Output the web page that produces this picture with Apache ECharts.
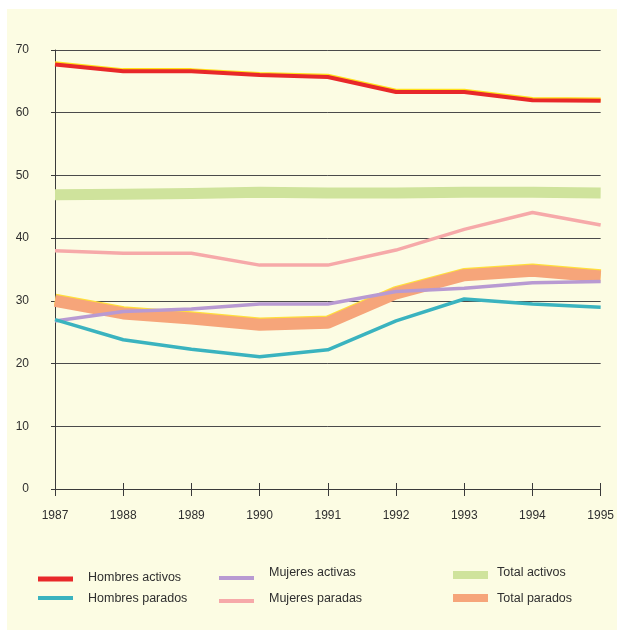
<!DOCTYPE html>
<html>
<head>
<meta charset="utf-8">
<script src="https://cdn.jsdelivr.net/npm/echarts@6/dist/echarts.min.js"></script>
<style>
html,body{margin:0;padding:0;background:#ffffff;}
#bg{position:absolute;left:7px;top:9px;width:610px;height:621px;background:#fcfce3;}
#chart{position:absolute;left:0;top:0;width:617px;height:630px;}
</style>
</head>
<body>
<div id="bg"></div>
<div id="chart"></div>
<script>
const years = ['1987','1988','1989','1990','1991','1992','1993','1994','1995'];
const yTicks = [0, 10, 20, 30, 40, 50, 60, 70];
const hombresActivos = [67.7, 66.6, 66.6, 66.0, 65.7, 63.3, 63.3, 62.0, 61.9];
const hombresParados = [27.0, 23.8, 22.3, 21.1, 22.2, 26.8, 30.3, 29.5, 29.0];
const mujeresActivas = [26.8, 28.3, 28.7, 29.5, 29.5, 31.5, 32.0, 32.9, 33.1];
const mujeresParadas = [38.0, 37.6, 37.6, 35.7, 35.7, 38.1, 41.4, 44.1, 42.1];
const totalActivos = [46.9, 47.0, 47.1, 47.3, 47.2, 47.2, 47.3, 47.3, 47.2];
const totalParados = [30.0, 28.0, 27.2, 26.2, 26.5, 31.2, 34.1, 34.8, 33.9];

const FONT = "'Liberation Sans Narrow', 'Liberation Sans', Arial, sans-serif";
const C = {
  ha: '#e8282a', hp: '#3ab3bf', ma: '#b89ad2', mp: '#f6a9a9', ta: '#cfe39c', tp: '#f6a57a'
};

// icon-only legend
function legIcon(name, color, left, centerY, w, h) {
  return {
    left: left, top: centerY - h / 2, itemWidth: w, itemHeight: h, padding: 0, selectedMode: false,
    data: [{ name: name, icon: 'rect', itemStyle: { color: color, borderWidth: 0 } }],
    textStyle: { fontSize: 1, color: 'rgba(0,0,0,0)', lineHeight: 1 }
  };
}
// text-only legend
function legText(name, left, centerY) {
  return {
    left: left - 6, top: centerY - 7.5, itemWidth: 1, itemHeight: 1, padding: 0, selectedMode: false,
    data: [{ name: name, icon: 'rect', itemStyle: { color: 'rgba(0,0,0,0)', borderWidth: 0 } }],
    textStyle: { fontFamily: FONT, fontSize: 12.5, color: '#2f2f2f', lineHeight: 16 }
  };
}

function line(name, data, color, width, z, shadow) {
  const ls = { color: color, width: width, cap: 'butt', join: 'round' };
  if (shadow) { ls.shadowColor = shadow; ls.shadowBlur = 0; ls.shadowOffsetY = -1.2; }
  return {
    name: name, type: 'line', data: data, symbol: 'none', z: z,
    itemStyle: { color: color }, lineStyle: ls, emphasis: { disabled: true }, silent: true
  };
}

const chart = echarts.init(document.getElementById('chart'), null, { renderer: 'canvas' });
chart.setOption({
  backgroundColor: 'transparent',
  animation: false,
  grid: { left: 55, top: 50, width: 548, height: 439, containLabel: false },
  xAxis: [{
    type: 'category', data: years, boundaryGap: false, position: 'bottom',
    axisLine: { show: true, lineStyle: { color: '#3a3a3a', width: 1 } },
    axisTick: { show: true, inside: false, length: 7, lineStyle: { color: '#3a3a3a' } },
    axisLabel: { fontFamily: FONT, fontSize: 12, color: '#2f2f2f', margin: 21 },
    splitLine: { show: false }
  }, {
    type: 'category', data: years, boundaryGap: false, position: 'bottom', offset: 0,
    axisLine: { show: false },
    axisTick: { show: true, inside: true, length: 6, lineStyle: { color: '#3a3a3a' } },
    axisLabel: { show: false }, splitLine: { show: false }
  }],
  yAxis: {
    type: 'value', min: yTicks[0], max: yTicks[yTicks.length - 1], interval: 10,
    axisLine: { show: true, lineStyle: { color: '#3a3a3a', width: 1 } },
    axisTick: { show: true, inside: false, length: 4, lineStyle: { color: '#3a3a3a' } },
    axisLabel: { fontFamily: FONT, fontSize: 12, color: '#2f2f2f', margin: 26 },
    splitLine: { show: true, lineStyle: { color: '#4a4a4a', width: 1 } }
  },
  legend: [
    legIcon('Hombres activos', C.ha, 38, 579, 35, 5),
    legIcon('Hombres parados', C.hp, 38, 598, 35, 4),
    legIcon('Mujeres activas', C.ma, 219, 578, 35, 4),
    legIcon('Mujeres paradas', C.mp, 219, 601, 35, 4),
    legIcon('Total activos', C.ta, 453, 575, 35, 8),
    legIcon('Total parados', C.tp, 453, 598, 35, 8),
    legText('Hombres activos', 88, 577),
    legText('Hombres parados', 88, 598),
    legText('Mujeres activas', 269, 572),
    legText('Mujeres paradas', 269, 598),
    legText('Total activos', 497, 572),
    legText('Total parados', 497, 598)
  ],
  series: [
    line('Total activos', totalActivos, C.ta, 11, 1),
    line('Total parados', totalParados, C.tp, 12, 2, '#ffdf3a'),
    line('Mujeres paradas', mujeresParadas, C.mp, 3.5, 3),
    line('Mujeres activas', mujeresActivas, C.ma, 3.5, 4),
    line('Hombres parados', hombresParados, C.hp, 3.5, 5),
    line('Hombres activos', hombresActivos, C.ha, 4, 6, '#ffe01a')
  ]
});
</script>
</body>
</html>
